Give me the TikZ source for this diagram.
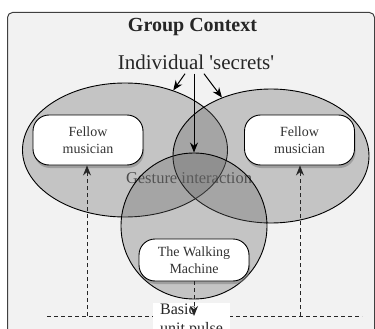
\documentclass[tikz,border=0pt]{standalone}
\usepackage{fontspec}
\setmainfont{Liberation Serif}
\usepackage{tikz}
\usetikzlibrary{shapes.geometric, arrows.meta, positioning, shadows}
\tikzset{
    frame_box/.style={
        rectangle, rounded corners=5pt, draw=black!75, line width=1pt,
        fill=black!5, anchor=north west, inner sep=0pt
    },
    zone_ellipse/.style={
        ellipse, draw=black, line width=0.9pt, inner sep=0pt,
        fill=black!60, fill opacity=0.32, draw opacity=1
    },
    actor_box/.style={
        rectangle, rounded corners=16pt, draw=black, line width=0.9pt, fill=white,
        minimum width=110pt, align=center, text=black!80,
        font=\fontsize{14}{16.5}\selectfont,
        drop shadow={shadow xshift=1pt, shadow yshift=-3pt, opacity=0.55}
    },
    flow_arrow/.style={
        -{Stealth[length=10pt, width=8pt]}, line width=1pt, draw=black
    },
    pulse_line/.style={
        dash pattern=on 4pt off 3pt, line width=1pt, draw=black!85
    },
    pulse_arrow/.style={
        pulse_line, -{Stealth[length=10pt, width=8pt]}
    },
    lbl/.style={
        fill=white, align=left, anchor=north west, text=black!85,
        inner xsep=7pt, inner ysep=1pt,
        font=\fontsize{16}{19}\selectfont
    }
}

\begin{document}
\begin{tikzpicture}[x=1pt, y=-1pt]
    \useasboundingbox (0,0) rectangle (375,329);
    \clip (0,0) rectangle (375,329);

    % --- Group frame ---
    \node[frame_box, minimum width=367pt, minimum height=350pt] (group) at (7,12) {};
    \node[anchor=base, text=black!85, font=\fontsize{20}{24}\selectfont\bfseries] (title) at (192.5,32) {Group Context};
    \node[anchor=base, text=black!85, font=\fontsize{21}{25}\selectfont] (secrets) at (196,70) {Individual \textquotesingle secrets\textquotesingle};
    \node[anchor=base, text=black!75, font=\fontsize{16.5}{20}\selectfont] (gesture) at (189,183) {Gesture interaction};

    % --- Overlapping zones ---
    \node[zone_ellipse, minimum width=205pt, minimum height=134pt] (leftE) at (125,150) {};
    \node[zone_ellipse, minimum width=196pt, minimum height=134pt] (rightE) at (271,156) {};
    \node[zone_ellipse, circle, minimum size=146pt] (walkE) at (194,226) {};

    % --- Players ---
    \node[actor_box, minimum height=50pt] (fellowL) at (88,140) {Fellow\\musician};
    \node[actor_box, minimum height=50pt] (fellowR) at (299.5,140) {Fellow\\musician};
    \node[actor_box, minimum height=42pt] (walker) at (194,260) {The Walking\\Machine};

    % --- Secrets flowing in ---
    \draw[flow_arrow] ([xshift=-11pt]secrets.south) -- (leftE.51);
    \draw[flow_arrow] ([xshift=-2pt]secrets.south) -- (walkE.north);
    \draw[flow_arrow] ([xshift=8pt]secrets.south) -- (rightE.130);

    % --- Basic unit pulse ---
    \coordinate (lineW) at (47,316);
    \coordinate (lineE) at (362,316);
    \coordinate (pulseL) at (87,316);
    \coordinate (pulseR) at (300,316);
    \coordinate (beat) at (194,316);
    \draw[pulse_line] (lineW) -- (lineE);
    \draw[pulse_arrow] (pulseL) -- (fellowL.south -| pulseL);
    \draw[pulse_arrow] (pulseR) -- (fellowR.south -| pulseR);
    \node[lbl] (pulse) at (153,303) {Basic\\unit pulse};
    \draw[pulse_arrow] (walker.south) -- (beat);

\end{tikzpicture}
\end{document}
